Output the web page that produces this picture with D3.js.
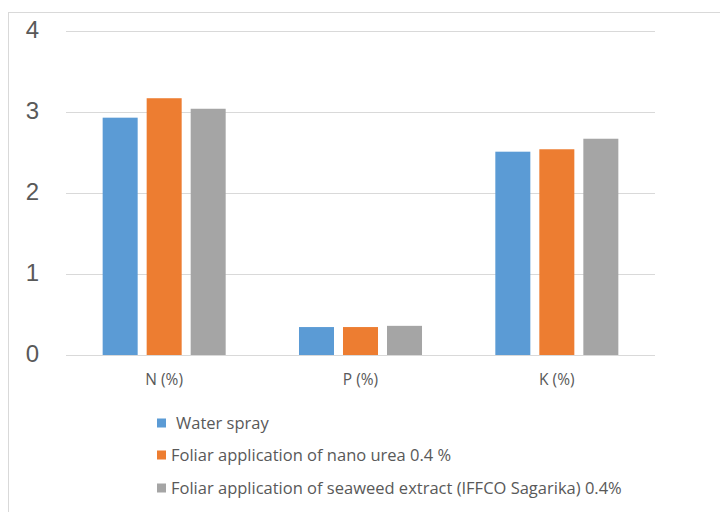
<!DOCTYPE html>
<html><head><meta charset="utf-8">
<script src="https://cdn.jsdelivr.net/npm/d3@7"></script>
<style>body{margin:0;background:#fff}svg{display:block}</style>
</head><body>
<script>
const categories = ["N (%)", "P (%)", "K (%)"];
const seriesNames = ["Water spray", "Foliar application of nano urea 0.4 %", "Foliar application of seaweed extract (IFFCO Sagarika) 0.4%"];
const waterSpray = [2.93, 0.345, 2.51];
const nanoUrea = [3.17, 0.345, 2.54];
const seaweed = [3.04, 0.36, 2.67];
const yTicks = [0, 1, 2, 3, 4];
const colors = ["#5B9BD5", "#ED7D31", "#A5A5A5"];
const seriesValues = [waterSpray, nanoUrea, seaweed];

const W = 720, H = 512;
const svg = d3.select("body").append("svg").attr("width", W).attr("height", H);
const font = "'Liberation Sans', Arial, sans-serif";
const lfont = "'Open Sans', sans-serif";

svg.append("rect").attr("x", 8.5).attr("y", 12.5).attr("width", 740).attr("height", 520)
  .attr("fill", "none").attr("stroke", "#D9D9D9").attr("stroke-width", 1);

const x0 = d3.scaleBand().domain(categories).range([66, 655]);
const y = d3.scaleLinear().domain([0, 4]).range([355, 31]);
const x1 = d3.scaleBand().domain(d3.range(3)).range([0, x0.bandwidth()]).paddingInner(0.2045).paddingOuter(0.833);

svg.append("g").selectAll("line").data(yTicks).join("line")
  .attr("x1", 66).attr("x2", 655)
  .attr("y1", d => Math.round(y(d)) + 0.5).attr("y2", d => Math.round(y(d)) + 0.5)
  .attr("stroke", "#D9D9D9").attr("stroke-width", 1);

svg.append("g").selectAll("text").data(yTicks).join("text")
  .attr("x", 39).attr("y", d => y(d) - 1).attr("dy", "0.35em")
  .attr("text-anchor", "end").attr("fill", "#595959")
  .style("font-family", font).style("font-size", "24px").text(d => d);

const groups = svg.append("g").selectAll("g").data(categories).join("g")
  .attr("transform", c => `translate(${x0(c)},0)`);
groups.selectAll("rect").data((c, i) => seriesValues.map((s, k) => ({k, v: s[i]}))).join("rect")
  .attr("x", d => x1(d.k)).attr("width", x1.bandwidth())
  .attr("y", d => y(d.v)).attr("height", d => y(0) - y(d.v))
  .attr("fill", d => colors[d.k]);

svg.append("g").selectAll("text").data(categories).join("text")
  .attr("x", c => x0(c) + x0.bandwidth() / 2).attr("y", 380).attr("dy", "0.35em")
  .attr("text-anchor", "middle").attr("fill", "#595959")
  .style("font-family", lfont).style("font-size", "15.5px").text(c => c);

const legendY = [423, 455, 488];
const lg = svg.append("g").selectAll("g").data(seriesNames).join("g");
lg.append("rect").attr("x", 157).attr("y", (d, i) => legendY[i] - 4.5).attr("width", 9).attr("height", 9)
  .attr("fill", (d, i) => colors[i]);
lg.append("text").attr("x", (d, i) => i === 0 ? 176 : 171).attr("y", (d, i) => legendY[i]).attr("dy", "0.35em")
  .attr("fill", "#595959").style("font-family", lfont).style("font-size", "16.5px").text(d => d);
</script>
</body></html>
